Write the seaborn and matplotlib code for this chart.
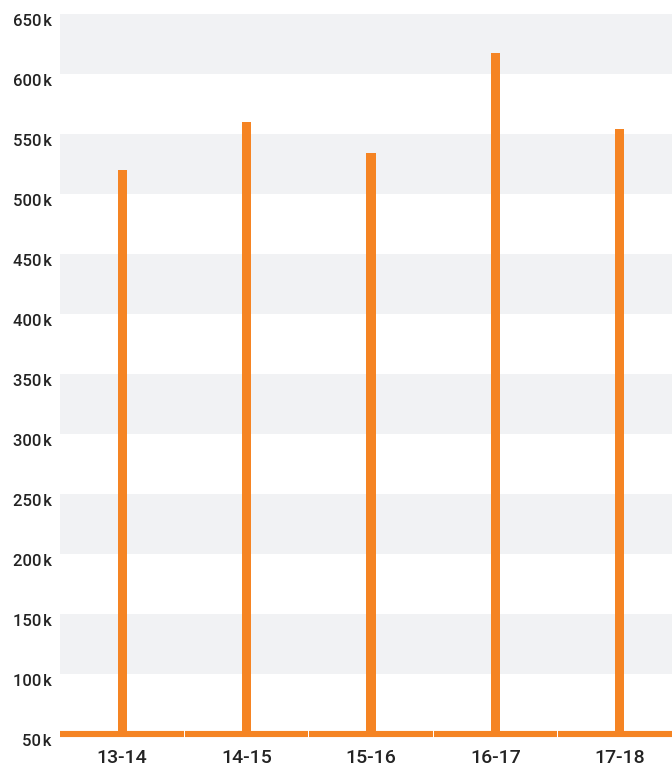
import matplotlib
matplotlib.use("Agg")
import matplotlib.pyplot as plt
import matplotlib.transforms as mtransforms
import seaborn as sns
import pandas as pd

seasons = ["13-14", "14-15", "15-16", "16-17", "17-18"]
values = [520000, 560000, 534000, 617500, 554000]
y_ticks = [50000, 100000, 150000, 200000, 250000, 300000, 350000, 400000,
           450000, 500000, 550000, 600000, 650000]
y_labels = [f"{t // 1000}\u200ak" for t in y_ticks]

ORANGE = "#f58423"
BAND = "#f1f2f4"
TEXT = "#232323"

sns.set_theme(style="white")
plt.rcParams['font.family'] = ['Roboto', 'DejaVu Sans']

W, H = 672, 779
fig = plt.figure(figsize=(W / 100, H / 100), dpi=100)
left, right = 60 / W, 682 / W
top, bottom = 1 - 14 / H, 1 - 734 / H
ax = fig.add_axes([left, bottom, right - left, top - bottom])

df = pd.DataFrame({"season": seasons, "value": values})

# alternating bands
for lo in y_ticks[1:-1:2]:
    ax.axhspan(lo, lo + 50000, color=BAND, zorder=0, lw=0)

sns.barplot(data=df, x="season", y="value", color=ORANGE, width=0.073,
            saturation=1, linewidth=0, ax=ax, zorder=2)

# baseline segments
for i in range(len(seasons)):
    ax.hlines(y_ticks[0], i - 0.5 + 0.003, i + 0.5 - 0.003, color=ORANGE,
              lw=4.4, zorder=3, clip_on=False)

ax.set_xlim(-0.5, len(seasons) - 0.5)
ax.set_ylim(y_ticks[0], y_ticks[-1])
ax.set_yticks(y_ticks)
ax.set_yticklabels(y_labels)
ax.set_xlabel("")
ax.set_ylabel("")
for s in ax.spines.values():
    s.set_visible(False)
ax.tick_params(axis="y", length=0, pad=6, labelsize=12, labelcolor=TEXT)
ax.tick_params(axis="x", length=0, pad=11, labelsize=14, labelcolor=TEXT)
offset = mtransforms.ScaledTranslation(0, -6 / 100, fig.dpi_scale_trans)
for lab in ax.get_yticklabels():
    lab.set_fontweight("medium")
    lab.set_transform(lab.get_transform() + offset)
for lab in ax.get_xticklabels():
    lab.set_fontweight("medium")
ax.grid(False)

fig.savefig("out.png", dpi=100)
